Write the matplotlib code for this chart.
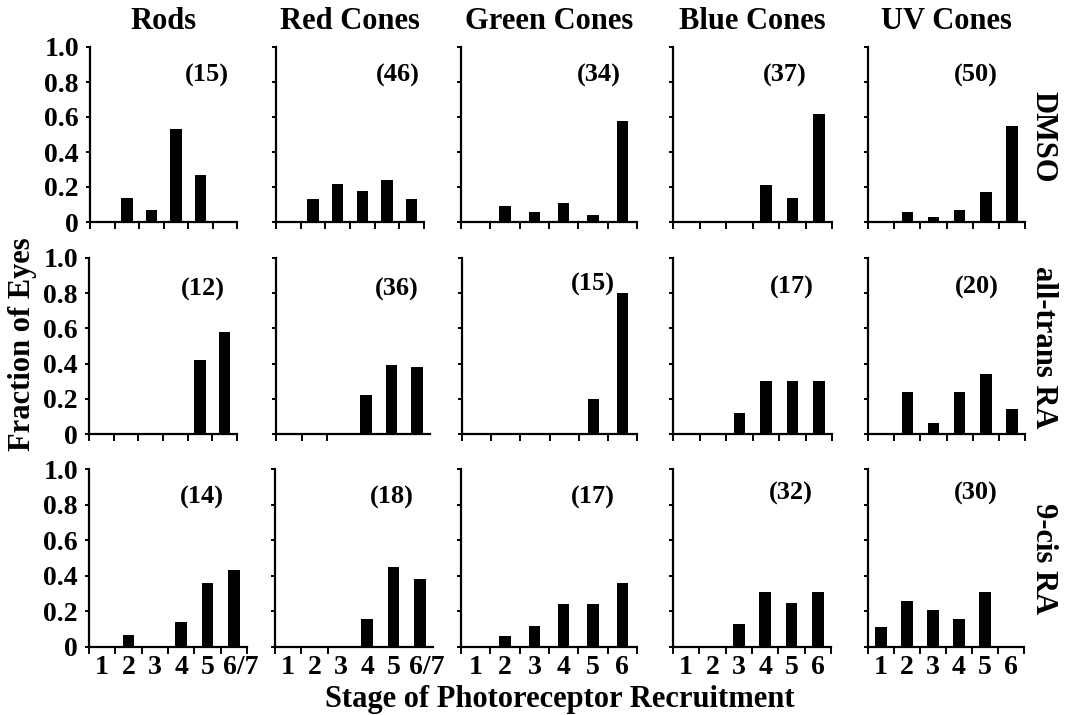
import matplotlib
matplotlib.use("Agg")
import matplotlib.pyplot as plt
import matplotlib.transforms as mtransforms
from matplotlib.ticker import FixedLocator, NullFormatter

plt.rcParams["font.family"] = ["Liberation Serif", "DejaVu Serif"]
plt.rcParams["font.weight"] = "bold"

# ---------------- data ----------------
cell_types = ["Rods", "Red Cones", "Green Cones", "Blue Cones", "UV Cones"]
treatments = ["DMSO", "all-trans RA", "9-cis RA"]
stage_labels_rods_red = ["1", "2", "3", "4", "5", "6/7"]
stage_labels_cones = ["1", "2", "3", "4", "5", "6"]
y_tick_values = [0, 0.2, 0.4, 0.6, 0.8, 1.0]
y_tick_labels = ["0", "0.2", "0.4", "0.6", "0.8", "1.0"]

# fraction of eyes at stages 1..6 (6/7)
dmso_rods = [0, 0.14, 0.07, 0.53, 0.27, 0]
dmso_red = [0, 0.13, 0.22, 0.18, 0.24, 0.13]
dmso_green = [0, 0.09, 0.06, 0.11, 0.04, 0.58]
dmso_blue = [0, 0, 0, 0.21, 0.14, 0.62]
dmso_uv = [0, 0.06, 0.03, 0.07, 0.17, 0.55]

atra_rods = [0, 0, 0, 0, 0.42, 0.58]
atra_red = [0, 0, 0, 0.22, 0.39, 0.38]
atra_green = [0, 0, 0, 0, 0.20, 0.80]
atra_blue = [0, 0, 0.12, 0.30, 0.30, 0.30]
atra_uv = [0, 0.24, 0.06, 0.24, 0.34, 0.14]

cis_rods = [0, 0.07, 0, 0.14, 0.36, 0.43]
cis_red = [0, 0, 0, 0.16, 0.45, 0.38]
cis_green = [0, 0.06, 0.12, 0.24, 0.24, 0.36]
cis_blue = [0, 0, 0.13, 0.31, 0.25, 0.31]
cis_uv = [0.11, 0.26, 0.21, 0.16, 0.31, 0]

dmso_n = [15, 46, 34, 37, 50]
atra_n = [12, 36, 15, 17, 20]
cis_n = [14, 18, 17, 32, 30]

values = [
    [dmso_rods, dmso_red, dmso_green, dmso_blue, dmso_uv],
    [atra_rods, atra_red, atra_green, atra_blue, atra_uv],
    [cis_rods, cis_red, cis_green, cis_blue, cis_uv],
]
counts = [dmso_n, atra_n, cis_n]

# ---------------- layout (pixels) ----------------
W, H = 1082, 715
row_tb = [(47, 222), (258, 434), (469, 647)]
col_lr = [
    [(90, 237), (276, 424), (461, 637), (673, 832), (868, 1025)],
    [(89, 237), (276, 430), (462, 637), (673, 832), (868, 1025)],
    [(89, 247), (275, 433), (461, 637), (673, 831), (868, 1024)],
]
# count label positions (x in stage units, y in fraction)
count_pos = [
    [(5.28, 0.835), (5.45, 0.835), (5.2, 0.835), (4.73, 0.835), (4.62, 0.835)],
    [(5.12, 0.82), (5.2, 0.82), (4.99, 0.85), (4.99, 0.835), (4.66, 0.835)],
    [(4.8, 0.84), (4.95, 0.84), (4.99, 0.84), (4.99, 0.86), (4.66, 0.86)],
]

fig = plt.figure(figsize=(W / 100, H / 100), dpi=100)
bar_px = 11.5
stages = [1, 2, 3, 4, 5, 6]
shift_67 = mtransforms.ScaledTranslation(7 / 100, 0, fig.dpi_scale_trans)

for r in range(3):
    T, B = row_tb[r]
    for c in range(5):
        L, R = col_lr[r][c]
        ax = fig.add_axes([L / W, 1 - B / H, (R - L) / W, (B - T) / H])
        px_per_unit = (R - L) / 6.0
        ax.bar(stages, values[r][c], width=bar_px / px_per_unit, color="black",
               edgecolor="black", linewidth=0)
        ax.set_xlim(0.5, 6.5)
        ax.set_ylim(0, 1.0)
        for s in ["top", "right"]:
            ax.spines[s].set_visible(False)
        for s in ["left", "bottom"]:
            ax.spines[s].set_linewidth(1.6)
        # x ticks at boundaries, labels at centers
        if c == 1 and r > 0:
            ax.xaxis.set_major_locator(FixedLocator([0.5, 1.5, 2.5]))
        else:
            ax.xaxis.set_major_locator(FixedLocator([0.5, 1.5, 2.5, 3.5, 4.5, 5.5, 6.5]))
        ax.xaxis.set_major_formatter(NullFormatter())
        ax.tick_params(axis="x", which="major", direction="out", length=5, width=1.4)
        if r == 2:
            labels = stage_labels_rods_red if c < 2 else stage_labels_cones
            ax.set_xticks(stages, minor=True)
            tl = ax.set_xticklabels(labels, minor=True, fontsize=20, fontweight="bold")
            ax.tick_params(axis="x", which="minor", length=0, pad=6)
            if c < 2:
                tl[-1].set_transform(tl[-1].get_transform() + shift_67)
        ax.set_yticks(y_tick_values)
        ax.tick_params(axis="y", direction="out", length=3, width=1.4, pad=5)
        if c == 0:
            ax.set_yticklabels(y_tick_labels, fontsize=20, fontweight="bold")
        else:
            ax.set_yticklabels([])
        cx, cy = count_pos[r][c]
        ax.text(cx, cy, "(%d)" % counts[r][c], ha="center", va="center",
                fontsize=19, fontweight="bold")
        if r == 0:
            ax.set_title(cell_types[c], fontsize=22, fontweight="bold", pad=13)

row_label_y = [137, 347, 559]
for r in range(3):
    fig.text(1043 / W, 1 - row_label_y[r] / H, treatments[r], rotation=-90,
             ha="center", va="center", fontsize=22, fontweight="bold")

fig.text(23 / W, 1 - 344 / H, "Fraction of Eyes", rotation=90, ha="center",
         va="center", fontsize=22, fontweight="bold")
fig.text(560 / W, 1 - 700 / H, "Stage of Photoreceptor Recruitment", ha="center",
         va="center", fontsize=22, fontweight="bold")

fig.savefig("out.png", dpi=100, facecolor="white")
